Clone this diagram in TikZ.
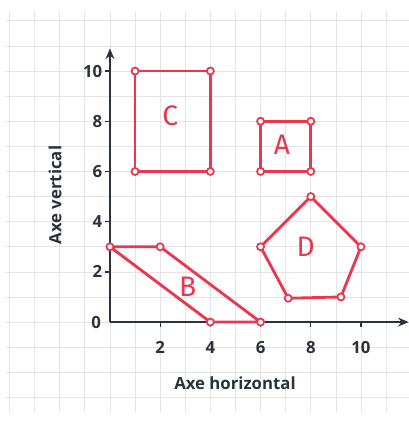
\documentclass[tikz,border=0pt]{standalone}
\usepackage{fontspec}
\setmainfont{Open Sans}
\newfontfamily\handfont{Fira Sans}
\usetikzlibrary{arrows.meta}
\definecolor{shapered}{HTML}{E8384F}
\definecolor{axisgray}{HTML}{2B323B}
\definecolor{gridgray}{HTML}{E4E4E4}

\begin{document}
\begin{tikzpicture}[x=1cm,y=1cm,
	shapeline/.style={shapered, line width=3.2pt, line join=round},
	vertex/.style={circle, draw=shapered, fill=white, line width=2pt, inner sep=0pt, minimum size=8pt},
	ticklabel/.style={font=\fontsize{19}{22}\selectfont\bfseries, text=axisgray, inner sep=0pt},
	shapelabel/.style={font=\handfont\fontsize{32}{38}\selectfont, text=shapered}]
	\useasboundingbox (-4.38,-4.06) rectangle (11.91,12.83);
	% grid paper
	\draw [gridgray, line width=0.8pt] (-4.2,-3.6) grid (11.9,12.4);
	% axes
	\coordinate (o) at (0,0);
	\coordinate (xend) at (11.9,0);
	\coordinate (yend) at (0,10.9);
	\draw [axisgray, line width=2pt, -{Stealth[length=12pt,width=10pt]}] (o) -- (xend);
	\draw [axisgray, line width=2pt, -{Stealth[length=12pt,width=10pt]}] (o) -- (yend);
	\foreach \t in {2,4,...,10} {
		\draw [axisgray, line width=1.5pt] (\t,0) -- (\t,-0.2);
		\node [ticklabel] (xl\t) at (\t,-1.0) {\t};
		\draw [axisgray, line width=1.5pt] (0,\t) -- (-0.2,\t);
		\node [ticklabel, anchor=east] (yl\t) at (-0.3,\t) {\t};
	}
	\node [ticklabel, anchor=east] (yl0) at (-0.35,0) {0};
	\node [ticklabel] (xlabel) at (4.98,-2.43) {Axe horizontal};
	\node [ticklabel, rotate=90] (ylabel) at (-2.19,5.06) {Axe vertical};
	% shape A
	\coordinate (a1) at (6,6);
	\coordinate (a2) at (8,6);
	\coordinate (a3) at (8,8);
	\coordinate (a4) at (6,8);
	\draw [shapeline] (a1) -- (a2) -- (a3) -- (a4) -- cycle;
	% shape B
	\coordinate (b1) at (0,3);
	\coordinate (b2) at (2,3);
	\coordinate (b3) at (6,0);
	\coordinate (b4) at (4,0);
	\draw [shapeline] (b1) -- (b2) -- (b3) -- (b4) -- cycle;
	% shape C
	\coordinate (c1) at (1,6);
	\coordinate (c2) at (4,6);
	\coordinate (c3) at (4,10);
	\coordinate (c4) at (1,10);
	\draw [shapeline] (c1) -- (c2) -- (c3) -- (c4) -- cycle;
	% shape D
	\coordinate (d1) at (6,3);
	\coordinate (d2) at (8,5);
	\coordinate (d3) at (10,3);
	\coordinate (d4) at (9.2,1);
	\coordinate (d5) at (7.1,0.95);
	\draw [shapeline] (d1) -- (d2) -- (d3) -- (d4) -- (d5) -- cycle;
	% corners
	\foreach \p in {a1,a2,a3,a4,b1,b2,b3,b4,c1,c2,c3,c4,d1,d2,d3,d4,d5}
		\node [vertex] at (\p) {};
	% names
	\node [shapelabel] (la) at (6.85,7.05) {A};
	\node [shapelabel] (lb) at (3.1,1.4) {B};
	\node [shapelabel] (lc) at (2.4,8.2) {C};
	\node [shapelabel] (ld) at (7.8,3.0) {D};
\end{tikzpicture}
\end{document}
